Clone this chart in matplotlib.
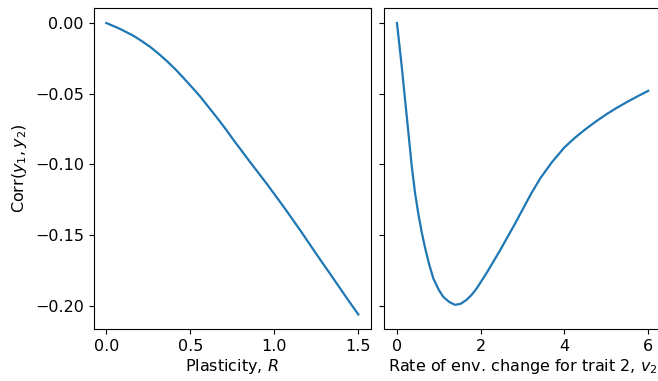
import matplotlib

matplotlib.use("Agg")
import matplotlib.pyplot as plt

# left panel: correlation vs plasticity R
plasticity = [0.0, 0.04, 0.082, 0.12, 0.161, 0.21, 0.26, 0.31, 0.36, 0.41, 0.458,
              0.51, 0.56, 0.61, 0.66, 0.71, 0.756, 0.855, 0.955, 1.055, 1.153,
              1.25, 1.351, 1.43, 1.5]
corr_plasticity = [0.0, -0.002, -0.0042, -0.0065, -0.009, -0.0127, -0.0168, -0.0216,
                   -0.0269, -0.0326, -0.0387, -0.0455, -0.0522, -0.0597, -0.0672,
                   -0.0750, -0.0826, -0.0983, -0.1138, -0.1300, -0.1465, -0.1635,
                   -0.1808, -0.1945, -0.2063]

# right panel: correlation vs rate of env. change for trait 2
rate_v2 = [0.0, 0.11, 0.23, 0.35, 0.43, 0.51, 0.59, 0.67, 0.77, 0.87, 1.0, 1.11,
           1.25, 1.385, 1.52, 1.66, 1.78, 1.9, 2.14, 2.46, 2.82, 3.0, 3.2, 3.42,
           3.7, 4.0, 4.25, 4.5, 4.75, 5.0, 5.25, 5.5, 5.75, 6.0]
corr_rate = [0.0, -0.0297, -0.065, -0.1005, -0.120, -0.135, -0.148, -0.159,
             -0.171, -0.181, -0.189, -0.194, -0.1975, -0.1995, -0.1988, -0.196,
             -0.1925, -0.188, -0.177, -0.161, -0.142, -0.132, -0.121, -0.110,
             -0.0985, -0.088, -0.0812, -0.0752, -0.0697, -0.0646, -0.0600,
             -0.0558, -0.0518, -0.048]

plt.rcParams.update({"font.size": 11.5})

fig = plt.figure(figsize=(6.58, 3.81), dpi=100)
ax1 = fig.add_axes([0.1424, 0.1365, 0.4213, 0.8413])
ax2 = fig.add_axes([0.5842, 0.1365, 0.4201, 0.8413], sharey=ax1)

ax1.plot(plasticity, corr_plasticity, color="#1f77b4", linewidth=1.6)
ax1.set_xlabel("Plasticity, $R$", labelpad=2.5)
ax1.set_ylabel("Corr($y_1, y_2$)")
ax1.set_xticks([0.0, 0.5, 1.0, 1.5])
ax1.set_yticks([0.0, -0.05, -0.10, -0.15, -0.20])

ax2.plot(rate_v2, corr_rate, color="#1f77b4", linewidth=1.6)
ax2.set_xlabel("Rate of env. change for trait 2, $v_2$", labelpad=2.5)
ax2.set_xticks([0, 2, 4, 6])
ax2.tick_params(axis="y", labelleft=False)

ax1.set_xlim(-0.075, 1.575)
ax2.set_xlim(-0.3, 6.3)
ax1.set_ylim(-0.2166, 0.0103)

fig.savefig("out.png", dpi=100)
